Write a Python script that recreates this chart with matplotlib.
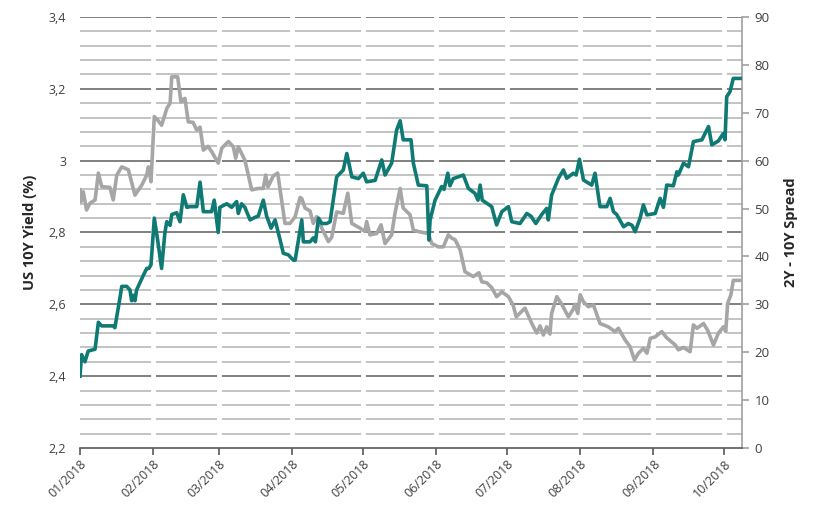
import numpy as np
import pandas as pd
import matplotlib
matplotlib.use('Agg')
import matplotlib.pyplot as plt
import matplotlib.dates as mdates
from matplotlib.ticker import FixedLocator, FuncFormatter

plt.rcParams['font.family'] = ['Open Sans', 'DejaVu Sans']

START = pd.Timestamp('2018-01-01')

# US 10Y yield (%), left axis; x = days since 01/01/2018
yield_day = [0.0, 0.7, 2.1, 3.5, 6.4, 7.8, 9.2, 14.1, 14.8, 17.0, 17.7, 19.8, 21.2, 21.9,
             22.6, 23.3, 24.0, 25.4, 26.8, 28.3, 29.2, 30.1, 31.5, 32.9, 34.6, 36.0, 36.8,
             38.2, 38.9, 41.0, 42.4, 43.8, 45.3, 46.6, 49.5, 50.9, 52.3, 55.8, 56.9, 58.6,
             59.3, 62.2, 64.3, 66.4, 67.1, 68.5, 69.9, 72.1, 73.5, 75.6, 77.7, 79.1, 81.0,
             82.7, 84.8, 86.2, 88.3, 90.4, 91.2, 94.0, 94.7, 97.5, 98.9, 99.8, 101.1, 102.5,
             104.6, 106.0, 108.8, 111.6, 113.1, 115.2, 118.0, 120.1, 121.5, 125.1, 127.9,
             129.3, 132.1, 134.2, 135.7, 137.0, 140.3, 141.3, 143.4, 147.0, 147.9, 148.4,
             150.5, 153.3, 154.3, 155.9, 156.8, 158.2, 162.5, 164.6, 167.4, 168.7, 169.6,
             170.5, 174.5, 176.6, 178.8, 181.6, 183.0, 186.5, 189.4, 191.2, 193.2, 195.7,
             197.8, 198.5, 199.9, 202.8, 204.9, 206.3, 209.1, 210.3, 211.7, 213.4, 216.9,
             218.3, 220.4, 223.3, 224.7, 226.1, 227.5, 230.4, 232.4, 234.0, 235.3, 237.4,
             238.8, 240.3, 243.8, 245.9, 247.3, 248.7, 251.5, 253.0, 253.6, 255.8, 257.9,
             260.0, 263.6, 266.4, 267.8, 270.6, 272.7, 273.4, 274.1, 275.5, 276.9, 279.8]
yield_val = [2.40, 2.46, 2.44, 2.47, 2.475, 2.55, 2.54, 2.54, 2.535, 2.62, 2.65, 2.65, 2.64, 2.61,
             2.625, 2.61, 2.64, 2.66, 2.68, 2.70, 2.70, 2.71, 2.84, 2.78, 2.70, 2.80, 2.83,
             2.82, 2.85, 2.855, 2.83, 2.905, 2.87, 2.872, 2.872, 2.94, 2.858, 2.858, 2.89, 2.80,
             2.87, 2.88, 2.87, 2.886, 2.853, 2.88, 2.87, 2.835, 2.84, 2.846, 2.89, 2.846, 2.812,
             2.835, 2.78, 2.742, 2.738, 2.723, 2.723, 2.835, 2.774, 2.774, 2.785, 2.774, 2.84, 2.825,
             2.825, 2.83, 2.955, 2.974, 3.02, 2.955, 2.95, 2.965, 2.941, 2.945, 3.002,
             2.96, 2.993, 3.085, 3.111, 3.058, 3.058, 2.993, 2.932, 2.93, 2.779, 2.835,
             2.89, 2.928, 2.92, 2.965, 2.93, 2.95, 2.96, 2.923, 2.909, 2.89, 2.932,
             2.89, 2.872, 2.821, 2.858, 2.872, 2.83, 2.825, 2.853, 2.845, 2.825, 2.85,
             2.867, 2.835, 2.904, 2.951, 2.974, 2.951, 2.965, 2.96, 3.004, 2.946, 2.932,
             2.965, 2.872, 2.872, 2.895, 2.858, 2.85, 2.816, 2.825, 2.82, 2.802, 2.84,
             2.877, 2.849, 2.853, 2.895, 2.87, 2.932, 2.93, 2.969, 2.96, 2.993, 2.983,
             3.053, 3.058, 3.095, 3.044, 3.055, 3.076, 3.058, 3.178, 3.192, 3.229, 3.229]

# 2Y - 10Y spread (bp), right axis
spread_day = [0.0, 0.4, 1.4, 2.8, 4.2, 6.4, 7.8, 9.2, 12.7, 14.1, 15.6, 17.7, 20.5, 23.3,
              26.2, 28.3, 29.0, 30.1, 31.5, 32.9, 34.6, 36.8, 38.2, 38.9, 41.4, 42.8, 43.8,
              44.5, 45.9, 47.9, 49.5, 50.9, 52.3, 54.3, 55.8, 58.6, 60.1, 62.9, 65.0, 66.0,
              67.1, 69.9, 72.8, 75.6, 77.7, 78.7, 79.7, 81.9, 83.8, 86.9, 89.0, 91.2, 93.3,
              94.0, 95.4, 97.5, 98.9, 100.3, 102.5, 105.3, 106.7, 108.8, 111.6, 113.5, 115.2,
              118.7, 120.8, 121.5, 122.9, 125.8, 127.6, 129.3, 132.1, 133.5, 135.7, 137.0,
              139.9, 141.3, 143.4, 147.6, 149.1, 151.9, 154.0, 156.1, 157.6, 159.0, 161.1,
              163.2, 166.7, 169.1, 170.3, 172.4, 174.5, 176.6, 178.8, 181.6, 183.6, 184.9,
              188.6, 191.5, 193.6, 195.0, 196.4, 197.8, 199.2, 199.9, 202.1, 204.2, 207.0,
              209.1, 209.8, 211.0, 212.0, 213.4, 215.5, 217.6, 220.4, 223.9, 226.8, 228.2,
              231.0, 233.1, 235.0, 236.7, 238.8, 240.3, 241.7, 243.8, 246.6, 248.7, 252.3,
              253.6, 255.8, 258.6, 260.0, 261.5, 264.3, 266.1, 268.5, 270.6, 272.7, 273.7,
              274.5, 275.9, 276.9, 279.8]
spread_val = [53.9, 51.4, 53.5, 49.7, 51.1, 51.8, 57.4, 54.6, 54.4, 51.8, 57.0, 58.7, 58.1, 52.8,
              54.9, 57.0, 58.7, 55.6, 69.2, 68.5, 67.4, 70.9, 72.0, 77.5, 77.5, 72.3, 72.8,
              73.0, 68.1, 68.0, 66.4, 67.0, 62.2, 63.0, 61.9, 59.5, 62.6, 64.0, 62.9, 60.5,
              62.9, 60.1, 53.9, 54.2, 54.2, 57.0, 54.5, 56.8, 57.4, 46.9, 46.9, 48.3, 52.3,
              52.1, 50.1, 49.5, 46.9, 48.3, 45.9, 43.1, 44.0, 49.3, 49.0, 53.2, 46.9,
              45.9, 45.2, 47.3, 44.5, 44.8, 46.6, 42.7, 44.5, 49.0, 54.2, 50.1,
              48.7, 45.5, 45.2, 44.8, 42.7, 42.0, 42.0, 44.5, 43.8, 43.5, 41.4,
              36.8, 35.8, 36.6, 34.7, 34.5, 33.5, 31.6, 32.6, 31.6, 29.8, 27.4,
              29.2, 26.0, 24.0, 25.5, 23.6, 25.3, 23.8, 28.1, 31.6, 30.0, 27.4,
              29.0, 30.0, 28.1, 32.0, 30.5, 29.5, 29.9, 26.0, 25.3, 24.3, 25.0,
              22.6, 21.2, 18.4, 19.8, 20.8, 19.8, 22.9, 23.2, 24.3, 23.0, 21.5,
              20.5, 21.0, 20.1, 25.7, 25.0, 26.0, 24.5, 21.5, 24.0, 25.3, 24.3,
              30.2, 32.0, 35.0, 35.0]

left_ticks = [2.2, 2.4, 2.6, 2.8, 3.0, 3.2, 3.4]
right_ticks = [0, 10, 20, 30, 40, 50, 60, 70, 80, 90]

TEAL = '#0f7a73'
GREY = '#a6a6a6'
TXT = '#404040'

yield_dates = START + pd.to_timedelta(yield_day, unit='D')
spread_dates = START + pd.to_timedelta(spread_day, unit='D')

fig = plt.figure(figsize=(8.21, 5.13), dpi=100)
ax = fig.add_axes([0.0974, 0.1267, 0.8064, 0.8402])
ax2 = ax.twinx()
ax.set_zorder(2)
ax2.set_zorder(1)
ax.patch.set_visible(False)

ax.set_xlim(START, START + pd.Timedelta(days=280.6))
ax.set_ylim(2.2, 3.4)
ax2.set_ylim(0, 90)

# horizontal grid (on the back axis, in spread units: 15 = 0.2 %)
for v in np.arange(3, 91, 3):
    major = v % 15 == 0
    ax2.axhline(v, color='#808080' if major else '#c3c3c3', lw=1.4, zorder=0.5)
# white gaps in the grid at month boundaries
months = pd.date_range('2018-01-01', '2018-10-01', freq='MS')
for m in months[1:]:
    ax2.axvline(m, color='white', lw=3.5, zorder=0.8)

ax2.plot(spread_dates, spread_val, color=GREY, lw=2.6, zorder=3, solid_joinstyle='round')
ax.plot(yield_dates, yield_val, color=TEAL, lw=2.6, zorder=3, solid_joinstyle='round')

# spines
for s in ['left', 'top', 'right']:
    ax.spines[s].set_visible(False)
ax.spines['bottom'].set_color('#595959')
ax.spines['bottom'].set_linewidth(1.2)
for s in ['left', 'top', 'bottom']:
    ax2.spines[s].set_visible(False)
ax2.spines['right'].set_color('#a0a0a0')
ax2.spines['right'].set_linewidth(1.2)

ax.xaxis.set_major_locator(mdates.MonthLocator())
ax.xaxis.set_major_formatter(mdates.DateFormatter('%m/%Y'))
ax.tick_params(axis='x', direction='out', length=5, width=1.2, color='#595959',
               labelsize=9, labelcolor=TXT, pad=2)
for lab in ax.get_xticklabels():
    lab.set_rotation(45)
    lab.set_ha('right')
    lab.set_rotation_mode('anchor')

ax.yaxis.set_major_locator(FixedLocator(left_ticks))
ax.yaxis.set_major_formatter(FuncFormatter(lambda v, p: f'{v:g}'.replace('.', ',')))
ax.tick_params(axis='y', length=0, labelsize=9, labelcolor=TXT, pad=10)

ax2.yaxis.set_major_locator(FixedLocator(right_ticks))
ax2.tick_params(axis='y', direction='out', length=5, width=1.2, color='#a0a0a0',
                labelsize=9.5, labelcolor=TXT, pad=4)
ax2.tick_params(axis='x', length=0, labelbottom=False)

ax.set_ylabel('US 10Y Yield (%)', fontsize=10.5, fontweight='bold', color='#262626', labelpad=8)
ax2.set_ylabel('2Y - 10Y Spread', fontsize=10.5, fontweight='bold', color='#262626',
               rotation=90, labelpad=10)

fig.savefig('out.png', dpi=100)
